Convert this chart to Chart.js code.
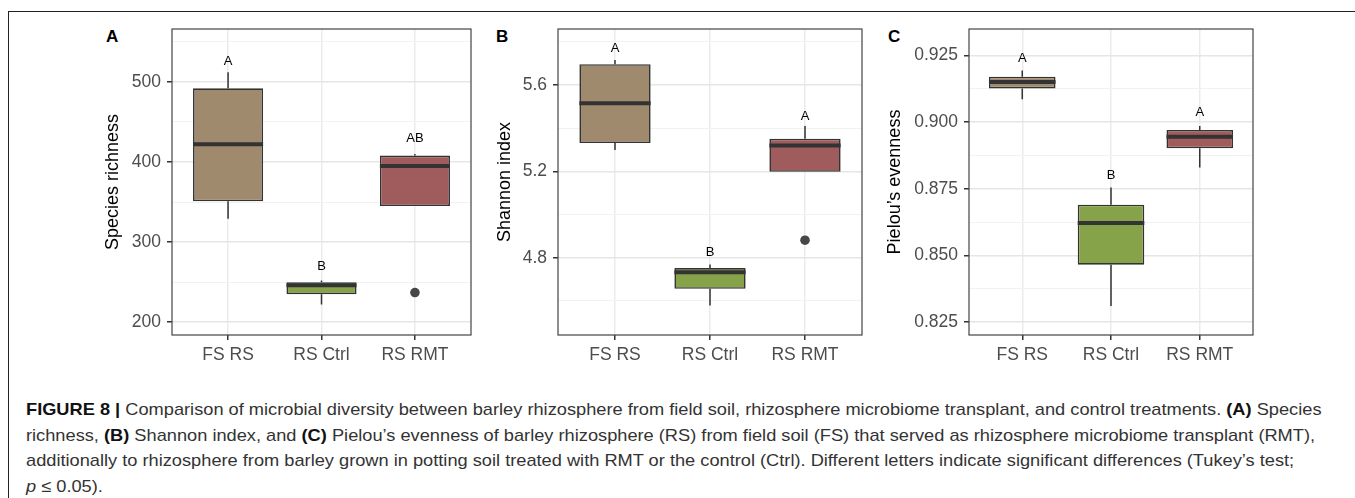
<!DOCTYPE html>
<html>
<head>
<meta charset="utf-8">
<script src="https://cdn.jsdelivr.net/npm/chart.js@4.4.0/dist/chart.umd.min.js"></script>
<style>
    body { margin: 0; background: #fff; width: 1355px; height: 498px; overflow: hidden; position: relative;
           font-family: "Liberation Sans", Arial, sans-serif; }
    #frame { position: absolute; left: 8px; top: 11px; width: 1360px; height: 500px;
             border-left: 1px solid #222; border-top: 1px solid #222; }
    .panel { position: absolute; top: 20px; height: 350px; }
    .tag { position: absolute; top: 27px; font-weight: bold; font-size: 17px; color: #000; }
    #caption { position: absolute; left: 26px; top: 397px; font-size: 17px; line-height: 25.5px;
               color: #333; white-space: nowrap; transform: scaleX(1.072); transform-origin: 0 0; }
    #caption b { color: #111; }
</style>
</head>
<body>
<div id="frame"></div>
<div class="tag" style="left:106px">A</div>
<div class="tag" style="left:496px">B</div>
<div class="tag" style="left:888px">C</div>
<div class="panel" style="left:95px;width:385px"><canvas id="chartA" width="385" height="350"></canvas></div>
<div class="panel" style="left:480px;width:390px"><canvas id="chartB" width="390" height="350"></canvas></div>
<div class="panel" style="left:870px;width:400px"><canvas id="chartC" width="400" height="350"></canvas></div>
<div id="caption">
<b>FIGURE 8 |</b> Comparison of microbial diversity between barley rhizosphere from field soil, rhizosphere microbiome transplant, and control treatments. <b>(A)</b> Species<br>
richness, <b>(B)</b> Shannon index, and <b>(C)</b> Pielou’s evenness of barley rhizosphere (RS) from field soil (FS) that served as rhizosphere microbiome transplant (RMT),<br>
additionally to rhizosphere from barley grown in potting soil treated with RMT or the control (Ctrl). Different letters indicate significant differences (Tukey’s test;<br>
<i>p</i> ≤ 0.05).
</div>

<script>
// Groups (x categories)
const groups = ['FS RS', 'RS Ctrl', 'RS RMT'];
const groupColors = ['#a08a6e', '#86a34a', '#a05c5c'];

// A - Species richness
const richLow = [329, 222, 345];
const richQ1 = [351, 235, 345];
const richMed = [422, 246, 395];
const richQ3 = [492, 250, 408];
const richHigh = [512, 252, 410];
const richOutliers = [null, null, 237];
const richLetters = ['A', 'B', 'AB'];
const richLetterY = [525, 269, 429];
const richTicks = [200, 300, 400, 500];
const richMinor = [250, 350, 450, 550];

// B - Shannon index
const shanLow = [5.299, 4.579, 5.198];
const shanQ1 = [5.331, 4.656, 5.198];
const shanMed = [5.515, 4.732, 5.319];
const shanQ3 = [5.696, 4.752, 5.351];
const shanHigh = [5.716, 4.769, 5.410];
const shanOutliers = [null, null, 4.881];
const shanLetters = ['A', 'B', 'A'];
const shanLetterY = [5.770, 4.825, 5.456];
const shanTicks = [4.8, 5.2, 5.6];
const shanMinor = [4.6, 5.0, 5.4, 5.8];

// C - Pielou's evenness
const pielLow = [0.9086, 0.8310, 0.8830];
const pielQ1 = [0.9127, 0.8465, 0.8902];
const pielMed = [0.9151, 0.8622, 0.8945];
const pielQ3 = [0.9171, 0.8690, 0.8971];
const pielHigh = [0.9194, 0.8755, 0.8986];
const pielOutliers = [null, null, null];
const pielLetters = ['A', 'B', 'A'];
const pielLetterY = [0.9240, 0.8802, 0.9037];
const pielTicks = [0.825, 0.850, 0.875, 0.900, 0.925];
const pielMinor = [0.8375, 0.8625, 0.8875, 0.9125];

const FONT = '"Liberation Sans", Arial, sans-serif';
const BOX_WIDTH = 0.75;

// letters above boxes + full panel border
const boxExtras = {
    id: 'boxExtras',
    afterDatasetsDraw(chart, args, opts) {
        const { ctx, chartArea: a, scales: { x, y } } = chart;
        ctx.save();
        ctx.font = '13px ' + FONT;
        ctx.fillStyle = '#000';
        ctx.textAlign = 'center';
        ctx.textBaseline = 'middle';
        opts.letters.forEach((t, i) => {
            ctx.fillText(t, x.getPixelForValue(i + 1), y.getPixelForValue(opts.letterY[i]));
        });
        ctx.strokeStyle = '#444';
        ctx.lineWidth = 1.2;
        ctx.strokeRect(a.left, a.top, a.width, a.height);
        ctx.restore();
    }
};

function makePanel(id, cfg) {
    const isMajor = v => cfg.ticks.some(t => Math.abs(t - v) < 1e-9);

    const boxes = groups.map((g, i) => ({ x: i + 1, y: [cfg.q1[i], cfg.q3[i]] }));
    const whiskers = [];
    const medians = [];
    groups.forEach((g, i) => {
        whiskers.push({ x: i + 1, y: cfg.low[i] }, { x: i + 1, y: cfg.q1[i] }, { x: i + 1, y: null });
        whiskers.push({ x: i + 1, y: cfg.q3[i] }, { x: i + 1, y: cfg.high[i] }, { x: i + 1, y: null });
        medians.push({ x: i + 1 - BOX_WIDTH / 2, y: cfg.med[i] }, { x: i + 1 + BOX_WIDTH / 2, y: cfg.med[i] }, { x: i + 1, y: null });
    });
    const outliers = [];
    cfg.out.forEach((v, i) => { if (v !== null) outliers.push({ x: i + 1, y: v }); });

    return new Chart(document.getElementById(id), {
        type: 'bar',
        data: {
            datasets: [
                {
                    type: 'line',
                    data: whiskers,
                    borderColor: '#333',
                    borderWidth: 1.5,
                    pointRadius: 0,
                    spanGaps: false,
                    order: 3
                },
                {
                    type: 'bar',
                    data: boxes,
                    backgroundColor: groupColors,
                    borderColor: '#333',
                    borderWidth: 1.6,
                    borderSkipped: false,
                    barPercentage: BOX_WIDTH,
                    categoryPercentage: 1,
                    order: 2
                },
                {
                    type: 'line',
                    data: medians,
                    borderColor: '#333',
                    borderWidth: 4,
                    borderCapStyle: 'butt',
                    pointRadius: 0,
                    spanGaps: false,
                    order: 1
                },
                {
                    type: 'scatter',
                    data: outliers,
                    backgroundColor: '#474747',
                    borderWidth: 0,
                    pointRadius: 4.8,
                    order: 0
                }
            ]
        },
        options: {
            responsive: false,
            animation: false,
            layout: { padding: { left: 0, top: 9, right: cfg.padRight, bottom: 0 } },
            plugins: {
                legend: { display: false },
                tooltip: { enabled: false },
                boxExtras: { letters: cfg.letters, letterY: cfg.letterY }
            },
            scales: {
                x: {
                    type: 'linear',
                    min: 0.4,
                    max: 3.6,
                    offset: false,
                    afterBuildTicks: axis => { axis.ticks = [1, 2, 3].map(v => ({ value: v })); },
                    afterFit: axis => {
                        axis.height = 35;
                        axis.paddingLeft = 0;
                        axis.paddingRight = 0;
                    },
                    ticks: {
                        autoSkip: false,
                        maxRotation: 0,
                        padding: 5,
                        color: '#4d4d4d',
                        font: { family: FONT, size: 17.5 },
                        callback: v => groups[v - 1]
                    },
                    grid: { offset: false, color: '#ebebeb', lineWidth: 1.5, tickColor: '#333', tickLength: 5 },
                    border: { display: false }
                },
                y: {
                    type: 'linear',
                    min: cfg.min,
                    max: cfg.max,
                    afterBuildTicks: axis => {
                        axis.ticks = cfg.ticks.concat(cfg.minor).sort((a, b) => a - b).map(v => ({ value: v }));
                    },
                    afterFit: axis => {
                        axis.width = cfg.axisWidth;
                        axis.paddingTop = 0;
                        axis.paddingBottom = 0;
                    },
                    ticks: {
                        autoSkip: false,
                        padding: 6,
                        color: '#4d4d4d',
                        font: { family: FONT, size: 17.5 },
                        callback: v => isMajor(v) ? v.toFixed(cfg.decimals) : ''
                    },
                    grid: {
                        color: c => (c.tick && isMajor(c.tick.value)) ? '#e6e6e6' : '#f2f2f2',
                        lineWidth: c => (c.tick && isMajor(c.tick.value)) ? 1.5 : 1,
                        tickColor: c => (c.tick && isMajor(c.tick.value)) ? '#333' : 'rgba(0,0,0,0)',
                        tickLength: 5
                    },
                    border: { display: false },
                    title: {
                        display: true,
                        text: cfg.title,
                        color: '#000',
                        font: { family: FONT, size: 18 },
                        padding: { top: cfg.titlePad, bottom: 0 }
                    }
                }
            }
        },
        plugins: [boxExtras]
    });
}

makePanel('chartA', {
    low: richLow, q1: richQ1, med: richMed, q3: richQ3, high: richHigh, out: richOutliers,
    letters: richLetters, letterY: richLetterY, ticks: richTicks, minor: richMinor,
    min: 184, max: 566, decimals: 0, title: 'Species richness',
    axisWidth: 77, padRight: 9, titlePad: 7
});
makePanel('chartB', {
    low: shanLow, q1: shanQ1, med: shanMed, q3: shanQ3, high: shanHigh, out: shanOutliers,
    letters: shanLetters, letterY: shanLetterY, ticks: shanTicks, minor: shanMinor,
    min: 4.442, max: 5.859, decimals: 1, title: 'Shannon index',
    axisWidth: 78, padRight: 8, titlePad: 14
});
makePanel('chartC', {
    low: pielLow, q1: pielQ1, med: pielMed, q3: pielQ3, high: pielHigh, out: pielOutliers,
    letters: pielLetters, letterY: pielLetterY, ticks: pielTicks, minor: pielMinor,
    min: 0.8201, max: 0.935, decimals: 3, title: 'Pielou\u2019s evenness',
    axisWidth: 99, padRight: 17, titlePad: 14
});
</script>
</body>
</html>
